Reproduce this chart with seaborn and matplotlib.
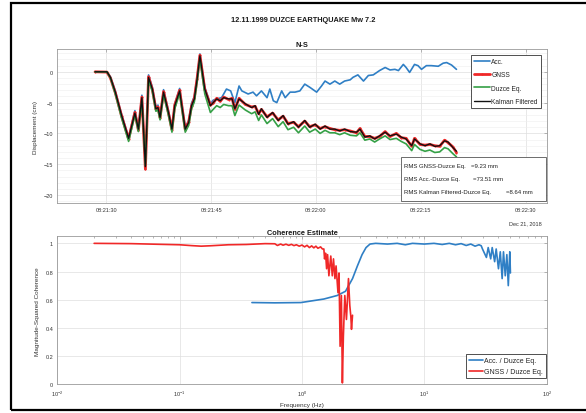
import matplotlib
matplotlib.use('Agg')
import matplotlib.pyplot as plt
import matplotlib.dates as mdates
import matplotlib.ticker as mticker
from matplotlib.patches import Rectangle
import pandas as pd
import seaborn as sns

# N-S displacement (cm), time in seconds after 08:21:30
t_main = [-1.6, 0.1, 0.6, 1.3, 2.2, 3.2, 4.1, 4.6, 5.1, 5.6, 6.05, 6.6, 7.1, 7.4, 7.7, 8.2, 8.9, 9.4, 9.8,
          10.5, 11.3, 11.8, 12.2, 12.6, 13.0, 13.4, 14.1, 14.9, 15.3, 15.8, 16.3, 16.8, 17.5, 18.0, 18.4,
          19.0, 19.9, 20.8, 21.3, 21.8, 22.2, 23.0, 23.8, 24.6, 25.3, 26.0, 26.8, 27.5, 28.4, 29.1, 29.9,
          30.6, 31.3, 32.0, 32.7, 33.4, 34.1, 34.9, 35.8, 36.3, 37.0, 37.7, 38.4, 39.1, 39.9, 40.6, 41.5,
          42.2, 42.9, 43.7, 44.1, 44.9, 45.6, 46.3, 47.0, 47.7, 48.4, 48.9, 49.6, 50.1]
kalman_cm = [0.0, 0.0, -0.9, -3.3, -7.1, -10.8, -6.7, -9.3, -4.2, -15.4, -0.9, -2.8, -6.0, -5.8, -7.4, -3.3, -6.6, -9.3, -5.5,
             -3.1, -9.3, -8.2, -5.5, -4.4, -1.2, 2.6, -2.8, -5.5, -5.0, -4.4, -4.7, -4.2, -4.4, -4.4, -6.0,
             -4.4, -5.2, -5.8, -5.5, -6.9, -6.0, -7.4, -6.6, -7.9, -7.1, -8.5, -8.1, -9.0, -7.9, -9.0, -8.5,
             -9.3, -8.8, -9.3, -9.3, -9.6, -9.3, -9.7, -9.8, -9.3, -10.6, -10.4, -10.9, -10.4, -9.8, -10.4, -10.1,
             -10.6, -10.9, -12.0, -10.9, -11.7, -12.0, -11.7, -12.1, -12.0, -11.2, -11.4, -12.3, -12.9]
gnss_cm = [0.0, -0.05, -1.0, -3.4, -7.2, -10.9, -6.6, -9.5, -4.1, -15.8, -0.8, -2.9, -6.1, -5.7, -7.5, -3.2, -6.7, -9.4, -5.4,
           -3.0, -9.4, -8.1, -5.6, -4.3, -1.1, 2.7, -2.9, -5.4, -5.1, -4.3, -4.8, -4.1, -4.5, -4.3, -6.1,
           -4.3, -5.3, -5.7, -5.6, -6.8, -6.1, -7.3, -6.7, -7.8, -7.2, -8.4, -8.2, -8.9, -8.0, -8.9, -8.6,
           -9.2, -8.9, -9.2, -9.4, -9.5, -9.4, -9.6, -9.9, -9.2, -10.5, -10.5, -10.8, -10.5, -9.7, -10.5, -10.0,
           -10.7, -10.8, -12.1, -10.8, -11.8, -11.9, -11.8, -12.0, -12.1, -11.1, -11.5, -12.2, -13.1]
duzce_cm = [0.0, 0.0, -1.0, -3.6, -7.5, -11.3, -7.0, -9.7, -4.6, -15.2, -1.3, -3.2, -6.4, -6.2, -7.8, -3.7, -7.0, -9.8, -6.0,
            -3.5, -9.8, -8.7, -6.0, -4.9, -1.6, 2.2, -3.6, -6.6, -6.1, -5.5, -5.8, -5.3, -5.5, -5.5, -7.1,
            -5.4, -6.2, -6.8, -6.5, -7.9, -7.0, -8.4, -7.6, -8.9, -8.1, -9.4, -9.0, -9.9, -8.8, -9.8, -9.3,
            -10.0, -9.5, -9.9, -9.9, -10.2, -9.9, -10.3, -10.4, -9.9, -11.1, -10.9, -11.4, -10.9, -10.4, -11.0, -10.8,
            -11.3, -11.7, -12.8, -11.8, -12.6, -12.9, -12.7, -13.1, -13.0, -12.3, -12.5, -13.3, -13.8]
t_acc = [-1.6, 0.1, 0.6, 1.3, 2.2, 3.2, 4.1, 4.6, 5.1, 5.6, 6.05, 6.6, 7.1, 7.4, 7.7, 8.2, 8.9, 9.4, 9.8,
         10.5, 11.3, 11.8, 12.2, 12.6, 13.0, 13.4, 14.1, 14.9, 15.3, 15.8, 16.5, 17.2, 17.8, 18.4, 19.0,
         19.4, 20.3, 21.0, 21.5, 22.2, 23.0, 23.4, 23.9, 24.4, 25.1, 25.6, 26.3, 27.0, 27.7, 28.4, 29.1,
         30.1, 30.8, 31.3, 32.0, 32.7, 33.4, 34.1, 34.9, 35.3, 36.0, 36.8, 37.5, 38.2, 39.1, 39.9, 40.6,
         41.3, 41.8, 42.5, 42.9, 43.4, 44.1, 44.6, 45.1, 45.8, 46.5, 47.5, 48.2, 48.7, 49.4, 50.1]
acc_cm = [0.0, 0.0, -0.8, -3.1, -6.9, -10.6, -6.3, -9.1, -3.8, -15.1, -0.5, -2.5, -5.7, -5.4, -7.2, -2.9, -6.3, -9.1, -5.2,
          -2.7, -9.0, -7.9, -5.1, -4.0, -0.8, 2.9, -2.5, -5.2, -4.6, -4.4, -4.2, -2.8, -3.1, -5.0, -2.3,
          -3.1, -3.6, -3.3, -3.9, -3.1, -4.2, -2.8, -4.7, -5.0, -3.1, -4.2, -3.3, -3.3, -3.1, -2.0, -2.5,
          -3.3, -2.3, -1.5, -2.0, -1.5, -2.0, -1.5, -1.3, -0.9, -0.5, -1.5, -0.6, -0.5, 0.2, 0.7, 0.3,
          0.4, 0.2, 1.2, 0.7, -0.1, 1.2, 1.0, 0.4, 1.0, 1.0, 0.9, 1.4, 1.5, 1.1, 0.4]

# magnitude-squared coherence
f_gnss = [0.02, 0.04, 0.07, 0.1, 0.125, 0.15, 0.18, 0.25, 0.35, 0.5, 0.6, 0.63, 0.67, 0.7, 0.74, 0.78, 0.82,
          0.86, 0.9, 0.95, 1.0, 1.05, 1.1, 1.15, 1.2, 1.25, 1.3, 1.35, 1.42, 1.47, 1.51, 1.53, 1.56, 1.59,
          1.62, 1.66, 1.72, 1.77, 1.81, 1.86, 1.9, 1.97, 2.01, 2.05, 2.10, 2.14, 2.18, 2.24, 2.31, 2.40,
          2.46, 2.51, 2.54, 2.59]
coh_gnss = [1.0, 0.998, 0.993, 0.99, 0.984, 0.98, 0.983, 0.99, 0.992, 0.998, 0.997, 0.985, 0.995, 0.987, 0.994,
            0.986, 0.993, 0.984, 0.99, 0.98, 0.988, 0.975, 0.986, 0.97, 0.982, 0.968, 0.98, 0.965, 0.975, 0.96,
            0.96, 0.89, 0.93, 0.82, 0.92, 0.77, 0.91, 0.77, 0.89, 0.75, 0.84, 0.65, 0.79, 0.27, 0.63, 0.01,
            0.34, 0.63, 0.46, 0.75, 0.56, 0.48, 0.39, 0.49]
f_acc = [0.39, 0.6, 0.98, 1.51, 1.94, 2.27, 2.59, 2.84, 3.1, 3.34, 3.6, 4.0, 5.0, 6.0, 7.0, 8.0, 10.0, 12.0,
         14.0, 16.0, 18.0, 20.0, 22.0, 24.0, 26.0, 28.0, 29.2, 29.9, 32.2, 33.3, 34.9, 35.9, 37.6, 38.7,
         40.4, 41.8, 43.3, 44.4, 45.9, 47.3, 48.6, 50.0, 50.6]
coh_acc = [0.58, 0.578, 0.58, 0.605, 0.63, 0.66, 0.75, 0.84, 0.92, 0.97, 0.995, 1.0, 0.995, 1.0, 0.99, 1.0,
           0.995, 1.0, 0.992, 1.0, 0.99, 0.998, 0.985, 0.995, 0.98, 0.99, 0.983, 0.96, 0.90, 0.97, 0.89, 0.97,
           0.87, 0.96, 0.82, 0.94, 0.75, 0.94, 0.77, 0.92, 0.70, 0.94, 0.79]

rms_labels = ["RMS GNSS-Duzce Eq.", "RMS Acc.-Duzce Eq.", "RMS Kalman Filtered-Duzce Eq."]
rms_values = ["=9.23 mm", "=73.51 mm", "=8.64 mm"]

C_ACC = '#2f7fc5'
C_GNSS = '#f02828'
C_DUZCE = '#35a046'
C_KAL = '#111111'

sns.set_style('white')
plt.rcParams['font.family'] = ['Liberation Sans', 'DejaVu Sans']
plt.rcParams['mathtext.fontset'] = 'custom'
plt.rcParams['mathtext.rm'] = 'Liberation Sans'

t0 = pd.Timestamp('2018-12-21 08:21:30')
main_df = pd.DataFrame({'time': t0 + pd.to_timedelta(t_main, unit='s'),
                        'kalman': kalman_cm, 'gnss': gnss_cm, 'duzce': duzce_cm})
acc_df = pd.DataFrame({'time': t0 + pd.to_timedelta(t_acc, unit='s'), 'acc': acc_cm})
coh_g = pd.DataFrame({'f': f_gnss, 'c': coh_gnss})
coh_a = pd.DataFrame({'f': f_acc, 'c': coh_acc})

fig = plt.figure(figsize=(5.86, 4.14), dpi=100)
fig.patch.set_facecolor('white')
# black frame of the screenshot
fig.patches.append(Rectangle((11 / 586, 1 - 411 / 414), 590 / 586, 407 / 414, transform=fig.transFigure,
                             fill=False, edgecolor='black', linewidth=1.6))

ax1 = fig.add_axes([0.0978, 0.5072, 0.835, 0.372])
ax2 = fig.add_axes([0.0978, 0.0693, 0.835, 0.3575])

fig.text(0.517, 0.951, '12.11.1999 DUZCE EARTHQUAKE Mw 7.2', ha='center', va='center',
         fontsize=5.3, fontweight='bold', color='#1a1a1a')

# --- top: displacement
sns.lineplot(data=acc_df, x='time', y='acc', ax=ax1, color=C_ACC, lw=1.2, estimator=None, label='Acc.')
sns.lineplot(data=main_df, x='time', y='gnss', ax=ax1, color=C_GNSS, lw=2.0, marker='.', markersize=3,
             markeredgewidth=0, estimator=None, label='GNSS')
sns.lineplot(data=main_df, x='time', y='duzce', ax=ax1, color=C_DUZCE, lw=1.2, estimator=None, label='Duzce Eq.')
sns.lineplot(data=main_df, x='time', y='kalman', ax=ax1, color=C_KAL, lw=1.0, estimator=None, label='Kalman Filtered')

ax1.set_xlim(pd.Timestamp('2018-12-21 08:21:23'), pd.Timestamp('2018-12-21 08:22:33'))
ax1.set_ylim(-21.3, 3.7)
ax1.xaxis.set_major_locator(mdates.SecondLocator(bysecond=[0, 15, 30, 45]))
ax1.xaxis.set_major_formatter(mdates.DateFormatter('%H:%M:%S'))
ax1.yaxis.set_major_locator(mticker.MultipleLocator(5))
ax1.yaxis.set_minor_locator(mticker.MultipleLocator(1))
ax1.set_xlabel('')
ax1.set_ylabel('Displacement (cm)', fontsize=4.6, color='#333333', labelpad=4)
ax1.set_title('N-S', fontsize=5.3, fontweight='bold', color='#1a1a1a', pad=2)
ax1.grid(True, which='major', color='#dedede', lw=0.5)
ax1.grid(True, which='minor', axis='y', color='#eeeeee', lw=0.4)
ax1.text(1.0 - 0.009, -0.13, 'Dec 21, 2018', transform=ax1.transAxes, ha='right', va='center',
         fontsize=4, color='#333333')

leg1 = ax1.legend(loc='upper right', bbox_to_anchor=(0.988, 0.961), borderaxespad=0, fontsize=4.8,
                  frameon=True, fancybox=False, edgecolor='#333333', framealpha=1, labelspacing=0.95,
                  handlelength=2.4, handletextpad=0.2, borderpad=0.45)
leg1.get_frame().set_linewidth(0.6)

ax1.add_patch(Rectangle((0.702, 0.015), 0.296, 0.282, transform=ax1.transAxes, facecolor='white',
                        edgecolor='#555555', lw=0.6, zorder=5))
rms_y = [0.242, 0.162, 0.078]
rms_x = [0.845, 0.849, 0.918]
for lab, val, yy, xx in zip(rms_labels, rms_values, rms_y, rms_x):
    ax1.text(0.709, yy, lab, transform=ax1.transAxes, fontsize=4.3, va='center', color='#222222', zorder=6)
    ax1.text(xx, yy, val, transform=ax1.transAxes, fontsize=4.3, va='center', color='#222222', zorder=6)

# --- bottom: coherence
sns.lineplot(data=coh_a, x='f', y='c', ax=ax2, color=C_ACC, lw=1.2, estimator=None, label='Acc. / Duzce Eq.')
sns.lineplot(data=coh_g, x='f', y='c', ax=ax2, color=C_GNSS, lw=1.2, estimator=None, label='GNSS / Duzce Eq.')
ax2.set_xscale('log')
ax2.set_xlim(1e-2, 1e2)
ax2.set_ylim(0, 1.05)
ax2.yaxis.set_major_locator(mticker.MultipleLocator(0.2))
ax2.yaxis.set_major_formatter(mticker.FuncFormatter(lambda v, p: f'{v:g}'))
ax2.set_xlabel('Frequency (Hz)', fontsize=4.6, color='#333333', labelpad=3)
ax2.set_ylabel('Magnitude-Squared Coherence', fontsize=4.6, color='#333333', labelpad=4)
ax2.set_title('Coherence Estimate', fontsize=5.3, fontweight='bold', color='#1a1a1a', pad=2)
ax2.grid(True, which='major', color='#dedede', lw=0.5)

leg2 = ax2.legend(loc='lower right', bbox_to_anchor=(0.999, 0.043), borderaxespad=0, fontsize=5,
                  frameon=True, fancybox=False, edgecolor='#333333', framealpha=1, labelspacing=0.6,
                  handlelength=2.1, handletextpad=0.15, borderpad=0.4)
leg2.get_frame().set_linewidth(0.6)

for ax in (ax1, ax2):
    for s in ax.spines.values():
        s.set_color('#9a9a9a')
        s.set_linewidth(0.6)
    ax.tick_params(which='both', direction='in', top=True, right=True, colors='#9a9a9a',
                   labelcolor='#333333', labelsize=4, width=0.5)
    ax.tick_params(which='major', length=2.5, pad=3)
    ax.tick_params(which='minor', length=1.5)
ax1.tick_params(which='minor', length=0)

plt.savefig('out.png', dpi=100, facecolor='white')
